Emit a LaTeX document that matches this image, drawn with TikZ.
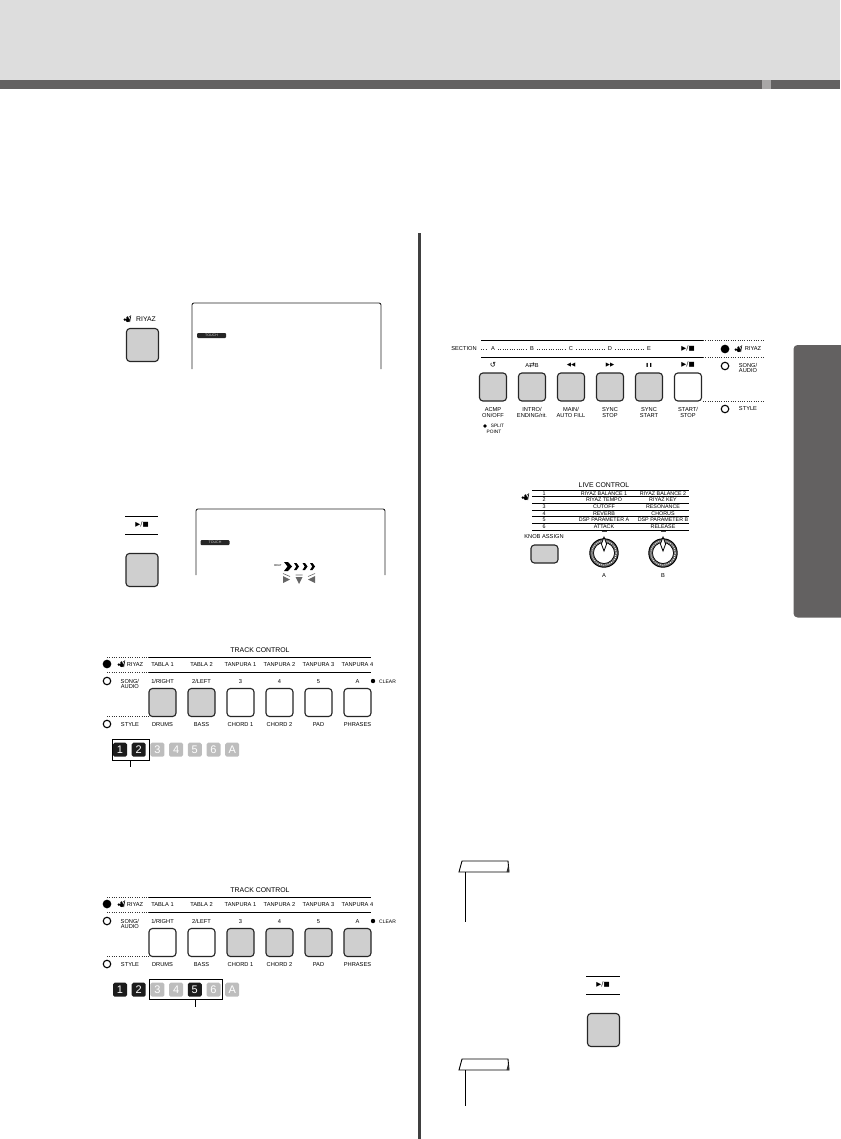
\documentclass[tikz,border=0pt]{standalone}
\usepackage{fontspec}
\setmainfont{Liberation Sans}
\newfontfamily\symfont{DejaVu Sans}
\usepackage{xcolor}
\usepackage{tikz}
\usetikzlibrary{positioning}
\definecolor{headgray}{HTML}{DDDDDD}
\definecolor{bargray}{HTML}{636161}
\definecolor{slotgray}{HTML}{A9A7A7}
\definecolor{btngray}{HTML}{CFCFCF}
\definecolor{numgray}{HTML}{BDBDBD}
\definecolor{numblack}{HTML}{1C1C1C}
\definecolor{divgray}{HTML}{404040}
\tikzstyle{btn} = [draw=black!85, line width=1.1, rounded corners=3.4, minimum width=27, minimum height=28, inner sep=0, outer sep=0]
\tikzstyle{bigbtn} = [btn, fill=btngray, minimum width=32, minimum height=33]
\tikzstyle{lbl} = [font=\fontsize{5.7}{6.4}\selectfont, inner sep=0, align=center]
\tikzstyle{rowlbl} = [lbl, text height=4.2, text depth=0]
\tikzstyle{led} = [draw=black, line width=1.1, circle, minimum size=7.5, inner sep=0, fill=white]
\tikzstyle{numbox} = [rounded corners=1.6, minimum size=14, inner sep=0, text=white, font=\fontsize{11}{11}\selectfont]
\tikzstyle{dots} = [line width=.8, dash pattern=on .8 off 1.5, black!80]
\tikzstyle{rule} = [line width=.9, black]
\tikzstyle{badge} = [fill=black!85, rounded corners=1, minimum width=29, minimum height=5, inner sep=0, text=white!80!black, font=\fontsize{3.6}{4}\selectfont]
\tikzset{
  riyazicon/.pic={
    \fill (-3.2,0.6) circle (1.4);
    \fill (-0.2,1) circle (2.1);
    \fill (-0.6,-1.6) circle (1.2);
    \fill (1.3,-2.2) circle (.6);
    \draw[line width=.6] (1.7,3) -- (2.8,-3.6);
  },
  knob/.pic={
    \draw[fill=black!60, line width=1] (0,0) circle (14.2);
    \draw[fill=white, line width=.7] (0,0) circle (10.5);
    \draw[white, line width=1, dash pattern=on .7 off 1.4] (0,0) circle (12.2);
    \draw[fill=white, line width=.8] (0,-16) -- (2.6,-9) -- (0,-2) -- (-2.6,-9) -- cycle;
    \draw[line width=.7, black!70] (-2.5,-22) -- (2.5,-22);
  },
  noteflag/.pic={
    \draw[line width=.9, fill=white] (0,11) -- (3,0) -- (49,0) -- (50,11) -- cycle;
    \fill[black!80] (47.5,11) -- (49.3,4) -- (50,11) -- cycle;
  }
}
\newcommand{\playstop}{{\symfont\fontsize{6.5}{7}\selectfont ▶/■}}

\begin{document}
\begin{tikzpicture}[x=1pt, y=-1pt]
\useasboundingbox (0,0) rectangle (840,1139);

% Page header
\fill[headgray] (0,0) rectangle (840,80);
\fill[bargray] (0,80) rectangle (840,89);
\fill[slotgray] (762,80) rectangle (771,89);
\fill[divgray] (418,233) rectangle (421,1139);
\fill[bargray, rounded corners=4] (793.5,345) rectangle (850,617.5);

% Step 1
\node[lbl, font=\fontsize{6.8}{7}\selectfont] (riyaztxt) at (146,319) {RIYAZ};
\pic at (128,319) {riyazicon};
\node[bigbtn] (riyazbtn) at (142.5,345) {};
\draw[line width=.9, black!85, rounded corners=2] (192,369) -- (192,303) -- (381,303) -- (381,369);
\node[badge] (touchA) at (211.5,335.5) {TOUCH};

% Step 2
\draw[rule] (125,516) -- (158,516);
\draw[rule] (125,534) -- (158,534);
\node[lbl] (playtxtA) at (142,525) {\playstop};
\node[bigbtn] (playbtnA) at (142,570) {};
\draw[line width=.9, black!85, rounded corners=2] (196,575) -- (196,509) -- (385,509) -- (385,575);
\node[badge] (touchB) at (215,542.5) {TOUCH};
\node[lbl, font=\fontsize{2.8}{3}\selectfont] (beat) at (278,566) {BEAT};
\fill (284,562) -- (288,562) -- (292,566.5) -- (288,571) -- (284,571) -- (287.5,566.5) -- cycle;
\foreach \x in {294,302.5,310}
  \fill (\x,563) -- (\x+2.5,563) -- (\x+5,566.5) -- (\x+2.5,570) -- (\x,570) -- (\x+2.2,566.5) -- cycle;
\fill[black!60] (283,576) -- (290,579.5) -- (283,583) -- cycle;
\fill[black!60] (295.5,577) -- (302.5,577) -- (299,584) -- cycle;
\fill[black!60] (315,576) -- (308,579.5) -- (315,583) -- cycle;
\draw[line width=.6, black!60] (283,573.5) -- (290,576.5) (295.5,575) -- (302.5,575) (315,573.5) -- (308,576.5);

% Track panels
\foreach \p/\dy/\fa/\fb/\fv in {A/0/btngray/white/numgray,B/240/white/btngray/numblack} {
  \begin{scope}[shift={(0,\dy)}]
    \node[lbl, font=\fontsize{6.9}{7}\selectfont] (trk\p) at (260,650) {TRACK CONTROL};
    \foreach \y in {657,672} {
      \draw[rule] (149,\y) -- (371,\y);
      \draw[dots] (107,\y) -- (149,\y);
    }
    \draw[dots] (107,716) -- (149,716);
    \node[led, fill=black] (ledr\p) at (107,664) {};
    \node[led] (leds\p) at (107,681) {};
    \node[led] (ledt\p) at (107,724) {};
    \pic at (122,664) {riyazicon};
    \node[rowlbl] (riyaz\p) at (135,664) {RIYAZ};
    \node[lbl, anchor=west] (song\p) at (120.5,684) {SONG/\\[-.6pt]AUDIO};
    \node[rowlbl] (style\p) at (130,724) {STYLE};
    \foreach \tptxt/\mdtxt/\lwtxt/\f [count=\i] in {TABLA 1/{1/RIGHT}/DRUMS/\fa,TABLA 2/{2/LEFT}/BASS/\fa,TANPURA 1/3/CHORD 1/\fb,TANPURA 2/4/CHORD 2/\fb,TANPURA 3/5/PAD/\fb,TANPURA 4/A/PHRASES/\fb} {
      \pgfmathsetmacro\cx{162.5+39*(\i-1)}
      \node[rowlbl] (top\p\i) at (\cx,664) {\tptxt};
      \node[rowlbl] (mid\p\i) at (\cx,681) {\mdtxt};
      \node[btn, fill=\f] (btn\p\i) at (\cx,702.5) {};
      \node[rowlbl] (low\p\i) at (\cx,724) {\lwtxt};
    }
    \fill (373,681) circle (2.2);
    \node[rowlbl, anchor=west, font=\fontsize{5}{5}\selectfont] (clear\p) at (379,681) {CLEAR};
    \foreach \n/\f [count=\i] in {1/numblack,2/numblack,3/numgray,4/numgray,5/\fv,6/numgray,A/numgray} {
      \pgfmathsetmacro\cx{120+18.7*(\i-1)}
      \node[numbox, fill=\f] (num\p\i) at (\cx,749.7) {\n};
    }
  \end{scope}
}

% Selected part boxes
\node[draw, line width=.8, minimum width=37, minimum height=21, inner sep=0] (selA) at (130.5,749.5) {};
\coordinate[below=7pt of selA.south] (selAend);
\draw[line width=.8] (selA.south) -- (selAend);
\node[draw, line width=.8, minimum width=73, minimum height=20, inner sep=0] (selB) at (185.5,989) {};
\coordinate (selBend) at (195,1007);
\draw[line width=.8] (selB.south -| selBend) -- (selBend);

% Section panel
\foreach \y in {340,357} {
  \draw[rule] (481,\y) -- (703,\y);
  \draw[dots] (703,\y) -- (765,\y);
}
\draw[dots] (703,401) -- (765,401);
\node[lbl] (section) at (464,349) {SECTION};
\coordinate (secdots) at (481,349);
\foreach \n/\t [count=\i] in {a/A,b/B,c/C,d/D,e/E} {
  \pgfmathsetmacro\cx{493+39*(\i-1)}
  \node[lbl] (sec\n) at (\cx,349) {\t};
}
\node[lbl] (secplay) at (688,349) {\playstop};
\draw[dots, shorten >=3pt] (secdots) -- (seca);
\foreach \a/\b in {a/b,b/c,c/d,d/e}
  \draw[dots, shorten <=3pt, shorten >=3pt] (sec\a) -- (sec\b);
\node[lbl, font=\symfont\fontsize{7.5}{7}\selectfont] (symcycle) at (493,365) {↺};
\node[lbl] (symab) at (532,365) {A{\symfont\fontsize{7}{7}\selectfont⇄}B};
\node[lbl, font=\symfont\fontsize{5.5}{6}\selectfont] (symrew) at (571,365) {◀◀};
\node[lbl, font=\symfont\fontsize{5.5}{6}\selectfont] (symffw) at (610,365) {▶▶};
\node[lbl, font=\symfont\fontsize{4}{6}\selectfont] (sympause) at (649,365) {❚❚};
\node[lbl] (symplay) at (688,365) {\playstop};
\foreach \t/\f [count=\i] in {{ACMP\\[-.6pt]ON/OFF}/btngray,{INTRO/\\[-.6pt]ENDING/rit.}/btngray,{MAIN/\\[-.6pt]AUTO FILL}/btngray,{SYNC\\[-.6pt]STOP}/btngray,{SYNC\\[-.6pt]START}/btngray,{START/\\[-.6pt]STOP}/white} {
  \pgfmathsetmacro\cx{493+39*(\i-1)}
  \node[btn, fill=\f] (secbtn\i) at (\cx,387) {};
  \node[lbl] (seclbl\i) at (\cx,412.5) {\t};
}
\fill (485,426) circle (1.9);
\node[lbl, font=\fontsize{4.8}{5.6}\selectfont] (split) at (494,429) {\hspace*{7pt}SPLIT\\POINT};
\node[led, fill=black] (secledr) at (725,349) {};
\node[led] (secleds) at (725,366) {};
\node[led] (secledt) at (725,409) {};
\pic at (739,349) {riyazicon};
\node[lbl] (secriyaz) at (753,349) {RIYAZ};
\node[lbl] (secsong) at (748,368) {SONG/\\[-.6pt]AUDIO};
\node[lbl] (secstyle) at (748,409) {STYLE};

% Live control
\node[lbl, font=\fontsize{6.9}{7}\selectfont] (live) at (604,485) {LIVE CONTROL};
\foreach \i in {0,...,6} {
  \pgfmathsetmacro\yy{490+6.67*\i}
  \draw[line width=.7] (532,\yy) -- (689,\yy);
}
\pic at (526,497) {riyazicon};
\foreach \n/\a/\b [count=\i] in {1/RIYAZ BALANCE 1/RIYAZ BALANCE 2,2/RIYAZ TEMPO/RIYAZ KEY,3/CUTOFF/RESONANCE,4/REVERB/CHORUS,5/DSP PARAMETER A/DSP PARAMETER B,6/ATTACK/RELEASE} {
  \pgfmathsetmacro\yy{493.4+6.67*(\i-1)}
  \node[rowlbl, text height=3.8, font=\fontsize{5.35}{5}\selectfont] (rown\i) at (544,\yy) {\n};
  \node[rowlbl, text height=3.8, font=\fontsize{5.35}{5}\selectfont] (rowa\i) at (604,\yy) {\a};
  \node[rowlbl, text height=3.8, font=\fontsize{5.35}{5}\selectfont] (rowb\i) at (663,\yy) {\b};
}
\node[lbl] (knobtxt) at (544,537) {KNOB ASSIGN};
\node[btn, fill=btngray, minimum height=18] (knobbtn) at (544.5,554) {};
\pic at (604,553) {knob};
\pic at (663,553) {knob};
\node[lbl] (knoba) at (604,576) {A};
\node[lbl] (knobb) at (663,576) {B};

% Notes and last step
\pic at (459,861) {noteflag};
\coordinate (noteA) at (465,872);
\coordinate (noteAend) at (465,922);
\draw[line width=.9] (noteA) -- (noteAend);
\pic at (459,1059) {noteflag};
\coordinate (noteB) at (465,1070);
\coordinate (noteBend) at (465,1106);
\draw[line width=.9] (noteB) -- (noteBend);
\draw[rule] (586,976) -- (620,976);
\draw[rule] (586,994) -- (620,994);
\node[lbl] (playtxtB) at (603,985) {\playstop};
\node[bigbtn] (playbtnB) at (603.5,1030) {};

\end{tikzpicture}
\end{document}
